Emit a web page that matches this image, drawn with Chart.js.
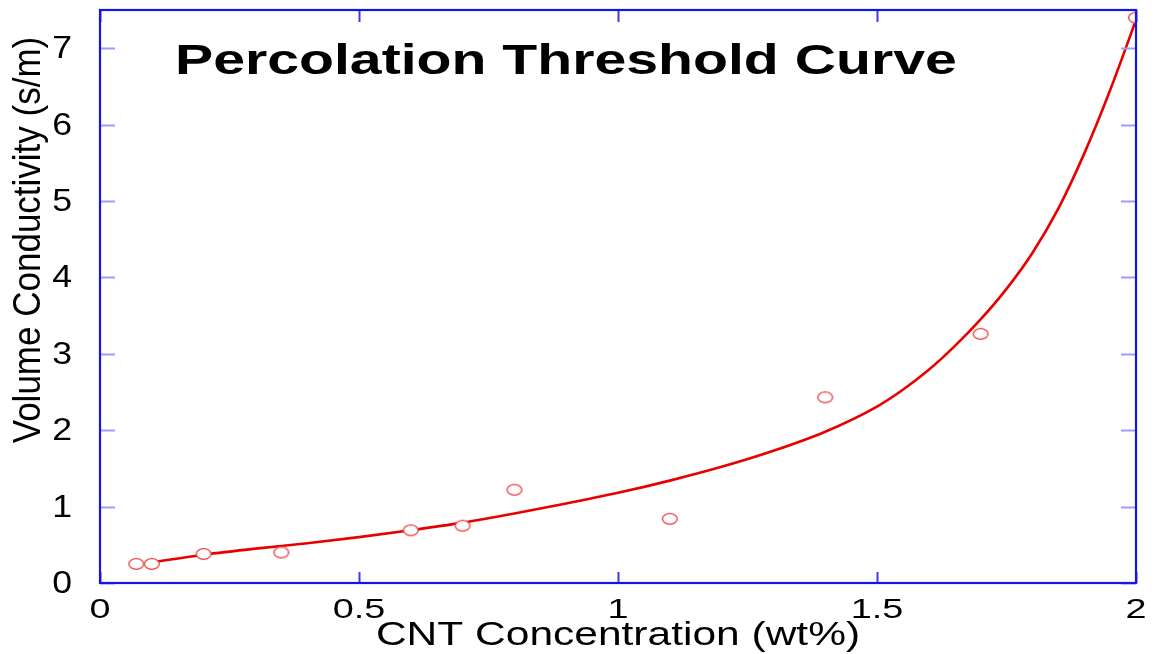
<!DOCTYPE html>
<html>
<head>
<meta charset="utf-8">
<script src="https://cdn.jsdelivr.net/npm/chart.js@4.4.1/dist/chart.umd.min.js"></script>
<style>
  body { margin: 0; background: #fff; }
  #wrap { width: 1158px; height: 654px; }
</style>
</head>
<body>
<div id="wrap"><canvas id="chart" width="1158" height="654"></canvas></div>
<script>
// measured points
const concData = [0.07, 0.10, 0.20, 0.35, 0.60, 0.70, 0.80, 1.10, 1.40, 1.70, 2.00];
const condData = [0.25, 0.25, 0.38, 0.40, 0.69, 0.75, 1.22, 0.84, 2.43, 3.26, 7.40];

// fitted curve
const fitConc = [0.10, 0.20, 0.30, 0.40, 0.50, 0.60, 0.70, 0.80, 0.90, 1.00, 1.10, 1.20, 1.30, 1.40, 1.50, 1.55, 1.60, 1.65, 1.70, 1.75, 1.80, 1.85, 1.90, 1.95, 2.00];
const fitCond = [0.27, 0.37, 0.45, 0.52, 0.60, 0.69, 0.79, 0.91, 1.04, 1.18, 1.34, 1.52, 1.73, 1.98, 2.31, 2.53, 2.79, 3.10, 3.45, 3.85, 4.32, 4.90, 5.62, 6.45, 7.37];

const xTicks = [0, 0.5, 1, 1.5, 2];
const xTickLabels = ['0', '0.5', '1', '1.5', '2'];
const yTicks = [0, 1, 2, 3, 4, 5, 6, 7];
const yTickLabels = ['0', '1', '2', '3', '4', '5', '6', '7'];

const titleText = 'Percolation Threshold Curve';
const xTitle = 'CNT Concentration (wt%)';
const yTitle = 'Volume Conductivity (s/m)';

// open elliptical marker
const marker = document.createElement('canvas');
marker.width = 18;
marker.height = 14;
(function () {
    const c = marker.getContext('2d');
    c.beginPath();
    c.ellipse(9, 7, 7.4, 5.4, 0, 0, Math.PI * 2);
    c.fillStyle = '#fff';
    c.fill();
    c.lineWidth = 1.3;
    c.strokeStyle = '#ee3a3a';
    c.stroke();
})();

function wideText(ctx, text, x, y, sx, align) {
    ctx.save();
    ctx.translate(x, y);
    ctx.scale(sx, 1);
    ctx.textAlign = align;
    ctx.textBaseline = 'alphabetic';
    ctx.fillText(text, 0, 0);
    ctx.restore();
}

const framePlugin = {
    id: 'frame',
    afterDraw(chart) {
        const ctx = chart.ctx;
        const a = chart.chartArea;
        const xs = chart.scales.x;
        const ys = chart.scales.y;
        ctx.save();

        // inward ticks
        ctx.lineWidth = 2;
        ctx.strokeStyle = '#3a3aee';
        xTicks.forEach(v => {
            const px = Math.round(xs.getPixelForValue(v)) + 0.5;
            ctx.beginPath();
            ctx.moveTo(px, a.bottom); ctx.lineTo(px, a.bottom - 11);
            ctx.moveTo(px, a.top); ctx.lineTo(px, a.top + 12);
            ctx.stroke();
        });
        ctx.strokeStyle = '#9c9cff';
        yTicks.forEach(v => {
            const py = Math.round(ys.getPixelForValue(v)) + 0.5;
            ctx.beginPath();
            ctx.moveTo(a.left, py); ctx.lineTo(a.left + 15, py);
            ctx.moveTo(a.right, py); ctx.lineTo(a.right - 15, py);
            ctx.stroke();
        });

        // box
        ctx.lineWidth = 2.2;
        ctx.strokeStyle = '#1414ec';
        ctx.strokeRect(a.left, a.top, a.right - a.left, a.bottom - a.top);

        // tick labels
        ctx.fillStyle = '#000';
        ctx.font = '28px "Liberation Sans", Arial, sans-serif';
        xTicks.forEach((v, i) => {
            wideText(ctx, xTickLabels[i], xs.getPixelForValue(v), a.bottom + 35, 1.35, 'center');
        });
        ctx.font = '31px "Liberation Sans", Arial, sans-serif';
        yTicks.forEach((v, i) => {
            wideText(ctx, yTickLabels[i], 72, ys.getPixelForValue(v) + 10, 1.15, 'right');
        });

        // axis titles
        ctx.font = '34px "Liberation Sans", Arial, sans-serif';
        wideText(ctx, xTitle, (a.left + a.right) / 2, 645, 1.25, 'center');

        ctx.save();
        ctx.translate(40, 240);
        ctx.rotate(-Math.PI / 2);
        ctx.scale(1, 1.12);
        ctx.font = '35px "Liberation Sans", Arial, sans-serif';
        ctx.textAlign = 'center';
        ctx.textBaseline = 'alphabetic';
        ctx.fillText(yTitle, 0, 0);
        ctx.restore();

        // title inside the plot
        ctx.font = 'bold 43px "Liberation Sans", Arial, sans-serif';
        wideText(ctx, titleText, 175, 74, 1.33, 'left');

        ctx.restore();
    }
};

new Chart(document.getElementById('chart'), {
    type: 'scatter',
    data: {
        datasets: [
            {
                label: 'measured',
                data: concData.map((x, i) => ({ x: x, y: condData[i] })),
                pointStyle: marker,
                showLine: false,
            },
            {
                label: 'fit',
                data: fitConc.map((x, i) => ({ x: x, y: fitCond[i] })),
                showLine: true,
                borderColor: '#e80000',
                borderWidth: 2.6,
                pointRadius: 0,
                cubicInterpolationMode: 'monotone',
                fill: false,
            }
        ]
    },
    options: {
        responsive: false,
        animation: false,
        layout: { padding: { left: 100, top: 10, right: 22, bottom: 71 } },
        plugins: { legend: { display: false }, tooltip: { enabled: false } },
        scales: {
            x: { type: 'linear', min: 0, max: 2, display: false },
            y: { type: 'linear', min: 0, max: 7.5, display: false }
        }
    },
    plugins: [framePlugin]
});
</script>
</body>
</html>
